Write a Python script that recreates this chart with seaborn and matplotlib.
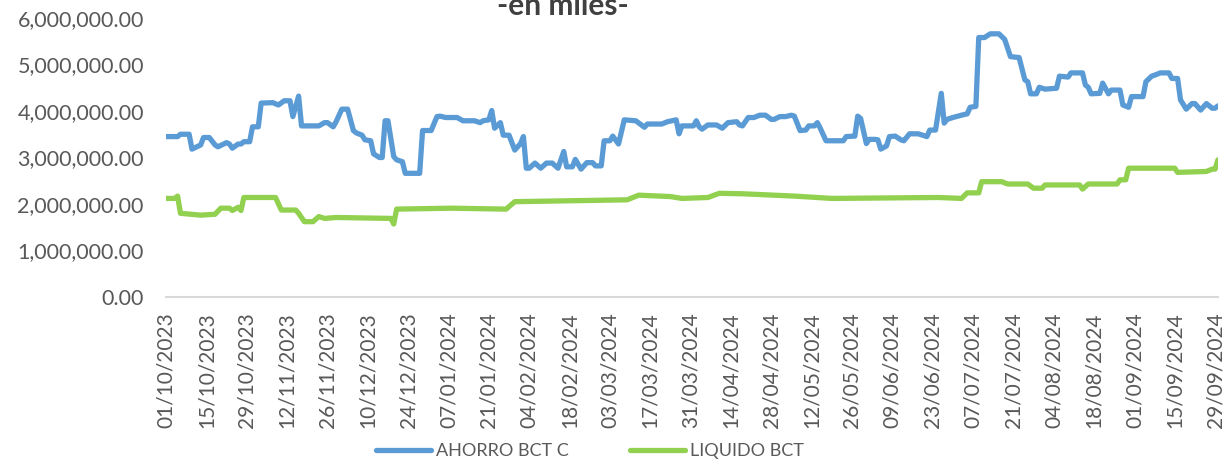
import pandas as pd
import matplotlib
matplotlib.use('Agg')
import matplotlib.pyplot as plt
import matplotlib.dates as mdates
from matplotlib.ticker import FuncFormatter
import seaborn as sns

# --- Data (in millions; days counted from 01/10/2023) ---
START_DATE = '2023-10-01'

ahorro_days = [0, 4, 5, 8, 9, 12, 13, 15, 17, 18, 21, 22, 23, 25, 26, 27, 29, 30, 32, 33,
               37, 39, 41, 43, 44, 46, 47, 53, 55, 56, 58, 59, 61, 63, 65, 66, 68, 69, 71, 72,
               74, 75, 76, 77, 79, 80, 82, 83, 88, 89, 92, 94, 95, 97, 101, 103, 107, 109, 110, 112,
               113, 114, 116, 117, 119, 121, 123, 124, 125, 126, 128, 130, 132, 134, 136, 138, 139, 141, 142, 144,
               146, 148, 149, 151, 152, 154, 155, 157, 159, 163, 166, 167, 172, 174, 177, 178, 179, 183, 184, 185,
               186, 188, 191, 193, 195, 198, 199, 200, 202, 204, 206, 208, 210, 211, 213, 215, 217, 218, 220, 222,
               223, 225, 226, 227, 229, 235, 236, 239, 240, 241, 243, 244, 246, 247, 248, 250, 251, 253, 255, 256,
               258, 261, 264, 265, 267, 269, 270, 271, 273, 276, 278, 279, 281, 282, 284, 286, 289, 291, 293, 296,
               298, 299, 300, 302, 303, 305, 309, 310, 313, 314, 318, 319, 320, 321, 324, 325, 327, 328, 331, 332,
               334, 335, 339, 340, 342, 343, 345, 348, 349, 351, 352, 354, 356, 357, 359, 361, 363, 364, 365]
ahorro_vals = [3.45, 3.45, 3.50, 3.50, 3.18, 3.27, 3.43, 3.43, 3.27, 3.23, 3.32, 3.29, 3.20, 3.29, 3.29, 3.34, 3.34, 3.66, 3.66, 4.17,
               4.18, 4.13, 4.22, 4.22, 3.88, 4.32, 3.68, 3.68, 3.75, 3.75, 3.66, 3.77, 4.04, 4.04, 3.58, 3.53, 3.48, 3.38, 3.36, 3.08,
               3.00, 3.00, 3.79, 3.79, 3.02, 2.95, 2.91, 2.66, 2.66, 3.58, 3.58, 3.88, 3.89, 3.86, 3.86, 3.79, 3.79, 3.75, 3.79, 3.81,
               4.01, 3.63, 3.75, 3.48, 3.48, 3.16, 3.30, 3.45, 2.77, 2.77, 2.88, 2.77, 2.88, 2.88, 2.77, 3.13, 2.80, 2.80, 2.96, 2.75,
               2.89, 2.89, 2.82, 2.82, 3.36, 3.36, 3.46, 3.29, 3.81, 3.79, 3.65, 3.72, 3.72, 3.77, 3.81, 3.51, 3.68, 3.68, 3.79, 3.66,
               3.61, 3.70, 3.70, 3.63, 3.75, 3.77, 3.70, 3.68, 3.86, 3.86, 3.91, 3.91, 3.82, 3.82, 3.88, 3.88, 3.91, 3.89, 3.58, 3.59,
               3.68, 3.68, 3.75, 3.63, 3.36, 3.36, 3.45, 3.46, 3.89, 3.84, 3.30, 3.39, 3.39, 3.38, 3.18, 3.25, 3.45, 3.46, 3.38, 3.36,
               3.51, 3.51, 3.45, 3.59, 3.59, 4.38, 3.74, 3.82, 3.86, 3.91, 3.94, 4.08, 4.10, 5.58, 5.58, 5.66, 5.66, 5.54, 5.17, 5.15,
               4.67, 4.63, 4.37, 4.37, 4.51, 4.47, 4.49, 4.75, 4.73, 4.82, 4.82, 4.56, 4.51, 4.37, 4.38, 4.60, 4.37, 4.45, 4.45, 4.13,
               4.08, 4.31, 4.31, 4.63, 4.75, 4.77, 4.82, 4.82, 4.70, 4.70, 4.24, 4.04, 4.16, 4.16, 4.02, 4.16, 4.06, 4.06, 4.11]

liquido_days = [0, 3, 4, 5, 12, 17, 19, 22, 23, 25, 26, 27, 38, 40, 45, 46, 48, 51, 53, 55,
                59, 78, 79, 80, 99, 118, 121, 160, 164, 175, 179, 188, 192, 200, 218, 231, 268, 276, 278, 282,
                283, 290, 292, 299, 301, 304, 305, 317, 318, 320, 330, 331, 333, 334, 350, 351, 361, 363, 364, 365]
liquido_vals = [2.12, 2.12, 2.17, 1.80, 1.76, 1.78, 1.91, 1.91, 1.86, 1.93, 1.86, 2.14, 2.14, 1.87, 1.87, 1.80, 1.62, 1.62, 1.73, 1.69,
                1.71, 1.69, 1.57, 1.89, 1.91, 1.89, 2.05, 2.09, 2.19, 2.16, 2.12, 2.14, 2.23, 2.22, 2.17, 2.12, 2.14, 2.12, 2.24, 2.24,
                2.48, 2.48, 2.43, 2.43, 2.34, 2.34, 2.41, 2.41, 2.32, 2.43, 2.43, 2.52, 2.52, 2.77, 2.77, 2.68, 2.70, 2.75, 2.75, 2.95]

SERIES_NAMES = ['AHORRO BCT C', 'LIQUIDO BCT']
SERIES_COLORS = ['#5B9BD5', '#92D050']

# --- Build data frames ---
start = pd.Timestamp(START_DATE)
ahorro_df = pd.DataFrame({'fecha': start + pd.to_timedelta(ahorro_days, unit='D'),
                          'valor': [v * 1e6 for v in ahorro_vals]})
liquido_df = pd.DataFrame({'fecha': start + pd.to_timedelta(liquido_days, unit='D'),
                           'valor': [v * 1e6 for v in liquido_vals]})

# --- Style ---
sns.set_style('white')
plt.rcParams['font.family'] = ['Lato', 'DejaVu Sans']
text_color = '#595959'
axis_color = '#d9d9d9'

fig = plt.figure(figsize=(12.31, 4.68), dpi=100)
ax = fig.add_axes([0.1349, 0.3654, 0.8545, 0.5961])

sns.lineplot(x='fecha', y='valor', data=ahorro_df, ax=ax, color=SERIES_COLORS[0],
             linewidth=3.8, label=SERIES_NAMES[0])
sns.lineplot(x='fecha', y='valor', data=liquido_df, ax=ax, color=SERIES_COLORS[1],
             linewidth=3.8, label=SERIES_NAMES[1])

# --- Axes ---
ax.set_ylim(0, 6e6)
ax.set_yticks([0, 1e6, 2e6, 3e6, 4e6, 5e6, 6e6])
ax.yaxis.set_major_formatter(FuncFormatter(lambda v, p: f'{v:,.2f}'))
ax.set_xlim(start, start + pd.Timedelta(days=365))
x_ticks = pd.date_range(start, periods=27, freq='14D')
ax.set_xticks(x_ticks)
ax.xaxis.set_major_formatter(mdates.DateFormatter('%d/%m/%Y'))
ax.set_xlabel('')
ax.set_ylabel('')

for side in ['top', 'right', 'left']:
    ax.spines[side].set_visible(False)
ax.spines['bottom'].set_color(axis_color)
ax.spines['bottom'].set_linewidth(1.5)

ax.tick_params(axis='x', which='major', direction='out', length=6, width=1.2, color=axis_color,
               labelsize=15, labelcolor=text_color, labelrotation=90, pad=5)
ax.tick_params(axis='y', length=0, labelsize=15.5, labelcolor=text_color, pad=16)
ax.grid(False)

# --- Title (partially cut at top, as in the source) ---
fig.text(0.457, 0.968, '-en miles-', ha='center', va='baseline', fontsize=21.5,
         fontweight='bold', color='#404040')

# --- Legend ---
ax.legend(loc='center', bbox_to_anchor=(590 / 1231, 17 / 468), bbox_transform=fig.transFigure,
          ncol=2, frameon=False, fontsize=13, labelcolor=text_color, handlelength=3.05,
          handletextpad=0.25, columnspacing=3.4)

plt.savefig('out.png', dpi=100)
